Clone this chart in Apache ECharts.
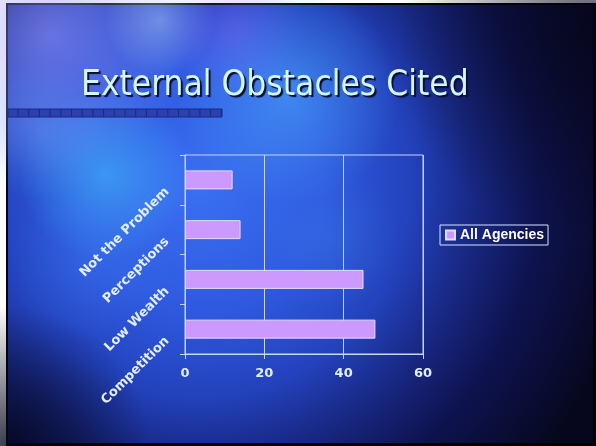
<!DOCTYPE html>
<html>
<head>
<meta charset="utf-8">
<script src="https://cdn.jsdelivr.net/npm/echarts@6/dist/echarts.min.js"></script>
<style>
  html, body { margin: 0; padding: 0; background: #fff; }
  #chart { width: 596px; height: 446px; }
</style>
</head>
<body>
<div id="chart"></div>
<script>
// categories listed bottom to top
const categories = ['Competition', 'Low Wealth', 'Perceptions', 'Not the Problem']
const allAgencies = [48, 45, 14, 12]
const xTicks = [0, 20, 40, 60]

const labelColor = '#e2eeff'
const lineColor = '#c8d4ff'

function glow(cx, cy, r, color) {
  return {
    type: 'circle',
    silent: true,
    z: -9,
    shape: { cx: cx, cy: cy, r: r },
    style: {
      fill: new echarts.graphic.RadialGradient(cx, cy, r, [
        { offset: 0, color: color },
        { offset: 1, color: color.replace(/[\d.]+\)$/, '0)') },
      ], true),
    },
  }
}

// checkered strip under the title
const strip = [{
  type: 'rect', silent: true, z: -5,
  shape: { x: 8, y: 109, width: 214, height: 8 },
  style: { fill: '#2c41ae', stroke: '#1a2886', lineWidth: 1 },
}]
for (let x = 18; x < 222; x += 10.7) {
  strip.push({
    type: 'line', silent: true, z: -4,
    shape: { x1: x, y1: 109, x2: x, y2: 117 },
    style: { stroke: '#1a2886', lineWidth: 1 },
  })
}

const chart = echarts.init(document.getElementById('chart'))

chart.setOption({
  backgroundColor: '#ffffff',
  animation: false,
  graphic: [
    {
      type: 'rect', silent: true, z: -10,
      shape: { x: 6, y: 3, width: 590, height: 443 },
      style: { fill: '#000' },
    },
    {
      type: 'rect', silent: true, z: -10,
      shape: { x: 8, y: 5, width: 585, height: 438 },
      style: {
        fill: new echarts.graphic.RadialGradient(200, 185, 440, [
          { offset: 0, color: '#3a70f2' },
          { offset: 0.28, color: '#2f5ae0' },
          { offset: 0.48, color: '#2342bc' },
          { offset: 0.62, color: '#182884' },
          { offset: 0.77, color: '#0e1350' },
          { offset: 1, color: '#06071c' },
        ], true),
      },
    },
    glow(50, 35, 140, 'rgba(160,155,255,0.55)'),
    glow(160, 20, 55, 'rgba(200,225,255,0.4)'),
    glow(235, 30, 70, 'rgba(165,100,255,0.3)'),
    glow(290, 95, 110, 'rgba(80,180,255,0.5)'),
    glow(105, 175, 85, 'rgba(70,205,255,0.5)'),
    glow(40, 130, 70, 'rgba(110,170,255,0.35)'),
    glow(90, 260, 80, 'rgba(60,130,245,0.3)'),
    glow(330, 240, 70, 'rgba(70,150,235,0.2)'),
    glow(10, 446, 140, 'rgba(5,6,28,0.8)'),
    glow(596, 40, 200, 'rgba(6,6,26,0.7)'),
  ].concat(strip),
  title: {
    text: 'External Obstacles Cited',
    left: 81,
    top: 68,
    padding: 0,
    textStyle: {
      color: '#d4f6ff',
      fontSize: 35,
      fontWeight: 'normal',
      fontFamily: '"Liberation Sans Narrow", "DejaVu Sans Condensed", sans-serif',
      textShadowColor: '#050c30',
      textShadowOffsetX: 2,
      textShadowOffsetY: 2,
      textShadowBlur: 1,
    },
  },
  legend: {
    data: ['All Agencies'],
    left: 440,
    top: 225,
    padding: [3, 4, 3, 5],
    borderColor: '#d8e4ff',
    borderWidth: 1,
    itemWidth: 9,
    itemHeight: 9,
    itemGap: 4,
    icon: 'rect',
    textStyle: {
      color: '#ffffff',
      fontSize: 14,
      fontWeight: 'bold',
      fontFamily: '"Liberation Sans", Arial, sans-serif',
    },
  },
  grid: {
    left: 185,
    right: 173,
    top: 155,
    bottom: 92,
    show: true,
    borderColor: lineColor,
    borderWidth: 1,
    backgroundColor: 'transparent',
  },
  xAxis: {
    type: 'value',
    min: xTicks[0],
    max: xTicks[xTicks.length - 1],
    interval: 20,
    axisLine: { show: true, lineStyle: { color: lineColor } },
    axisTick: { show: true, length: 5, lineStyle: { color: lineColor } },
    splitLine: { show: true, lineStyle: { color: lineColor, width: 1 } },
    axisLabel: {
      color: labelColor,
      fontSize: 13,
      fontWeight: 'bold',
      fontFamily: '"DejaVu Sans", Verdana, sans-serif',
      margin: 13,
    },
  },
  yAxis: {
    type: 'category',
    data: categories,
    axisLine: { show: true, lineStyle: { color: lineColor } },
    axisTick: { show: true, length: 5, lineStyle: { color: lineColor } },
    axisLabel: {
      rotate: 45,
      color: labelColor,
      fontSize: 13,
      fontWeight: 'bold',
      fontFamily: '"DejaVu Sans", Verdana, sans-serif',
      margin: 8,
      padding: [0, 14, 0, 0],
    },
  },
  series: [
    {
      name: 'All Agencies',
      type: 'bar',
      data: allAgencies,
      barWidth: 19,
      itemStyle: { color: '#cc99ff', borderColor: '#e6dcff', borderWidth: 1 },
    },
  ],
})
</script>
</body>
</html>
